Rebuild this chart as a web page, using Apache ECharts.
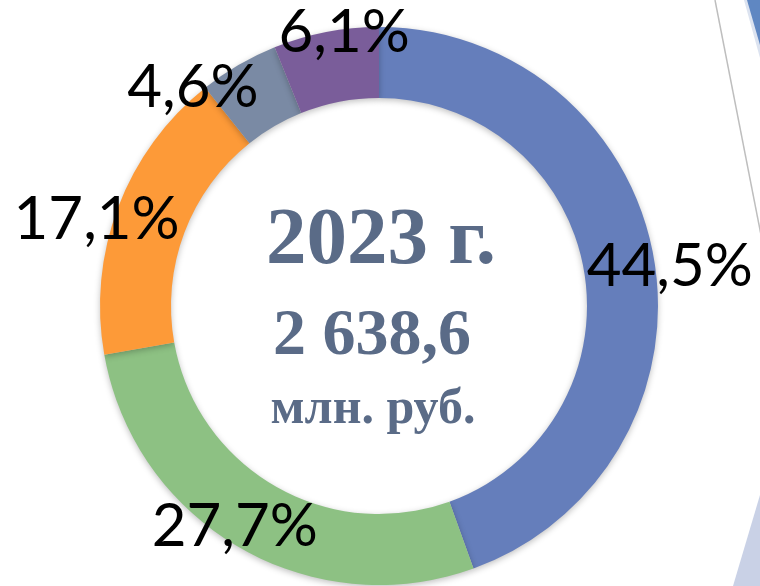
<!DOCTYPE html>
<html>
<head>
<meta charset="utf-8">
<script src="https://cdn.jsdelivr.net/npm/echarts@6/dist/echarts.min.js"></script>
<style>
  html, body { margin: 0; padding: 0; background: #fff; }
  #chart { width: 760px; height: 586px; }
</style>
</head>
<body>
<div id="chart"></div>
<script>
// структура за 2023 г., доли в %
const categories = ['Сегмент 1', 'Сегмент 2', 'Сегмент 3', 'Сегмент 4', 'Сегмент 5'];
const shares = [44.5, 27.7, 17.1, 4.6, 6.1];
const colors = ['#657EBB', '#8DC183', '#FD9A38', '#7A8AA4', '#7A5D9A'];

const yearText = '2023 г.';
const totalText = '2 638,6';
const unitText = 'млн. руб.';

const chart = echarts.init(document.getElementById('chart'));

const cx = 379, cy = 306;
// сдвиг подписей, как в исходном слайде
const nudge = [[7, 10], [0, -29], [-13, 15], [-41, 30], [20, 9]];

const pieData = categories.map((name, i) => ({
    name: name,
    value: shares[i],
    itemStyle: { color: colors[i] }
}));

const labelData = categories.map((name, i) => ({
    name: name,
    value: shares[i],
    label: { offset: nudge[i] }
}));

const textColor = '#5A6B87';

const option = {
    animation: false,
    backgroundColor: '#fff',
    graphic: [
        {
            type: 'line',
            shape: { x1: 715, y1: 0, x2: 762, y2: 240 },
            style: { stroke: '#BEBEBE', lineWidth: 1.5 },
            z: 0
        },
        {
            type: 'polygon',
            shape: { points: [[744, 0], [760, 0], [760, 58]] },
            style: { fill: '#DCE3F0' },
            z: 0
        },
        {
            type: 'polygon',
            shape: { points: [[747, 0], [760, 0], [760, 45]] },
            style: { fill: '#5F87C2' },
            z: 0
        },
        {
            type: 'polygon',
            shape: { points: [[733, 586], [760, 586], [760, 495]] },
            style: { fill: '#C9D1E6' },
            z: 0
        },
        {
            type: 'text',
            x: cx + 2, y: 242,
            style: {
                text: yearText,
                fill: textColor,
                font: 'bold 81px "Liberation Serif", serif',
                textAlign: 'center',
                textVerticalAlign: 'middle'
            },
            z: 5
        },
        {
            type: 'text',
            x: cx - 7, y: 337,
            style: {
                text: totalText,
                fill: textColor,
                font: 'bold 66px "Liberation Serif", serif',
                textAlign: 'center',
                textVerticalAlign: 'middle'
            },
            z: 5
        },
        {
            type: 'text',
            x: cx - 6, y: 410,
            style: {
                text: unitText,
                fill: textColor,
                font: 'bold 50px "Liberation Serif", serif',
                textAlign: 'center',
                textVerticalAlign: 'middle'
            },
            z: 5
        }
    ],
    series: [
        {
            type: 'pie',
            center: [cx, cy],
            radius: [208, 279],
            startAngle: 90,
            clockwise: true,
            silent: true,
            label: { show: false },
            labelLine: { show: false },
            itemStyle: {
                shadowBlur: 6,
                shadowOffsetY: 2,
                shadowColor: 'rgba(0,0,0,0.25)'
            },
            data: pieData,
            z: 2
        },
        {
            type: 'pie',
            center: [cx, cy],
            radius: [270, 300],
            startAngle: 90,
            clockwise: true,
            silent: true,
            itemStyle: { color: 'rgba(0,0,0,0)' },
            label: {
                show: true,
                position: 'inside',
                color: '#000',
                fontFamily: 'Lato',
                fontSize: 60,
                formatter: p => p.value.toFixed(1).replace('.', ',') + '%'
            },
            labelLine: { show: false },
            data: labelData,
            z: 3
        }
    ]
};

chart.setOption(option);
</script>
</body>
</html>
